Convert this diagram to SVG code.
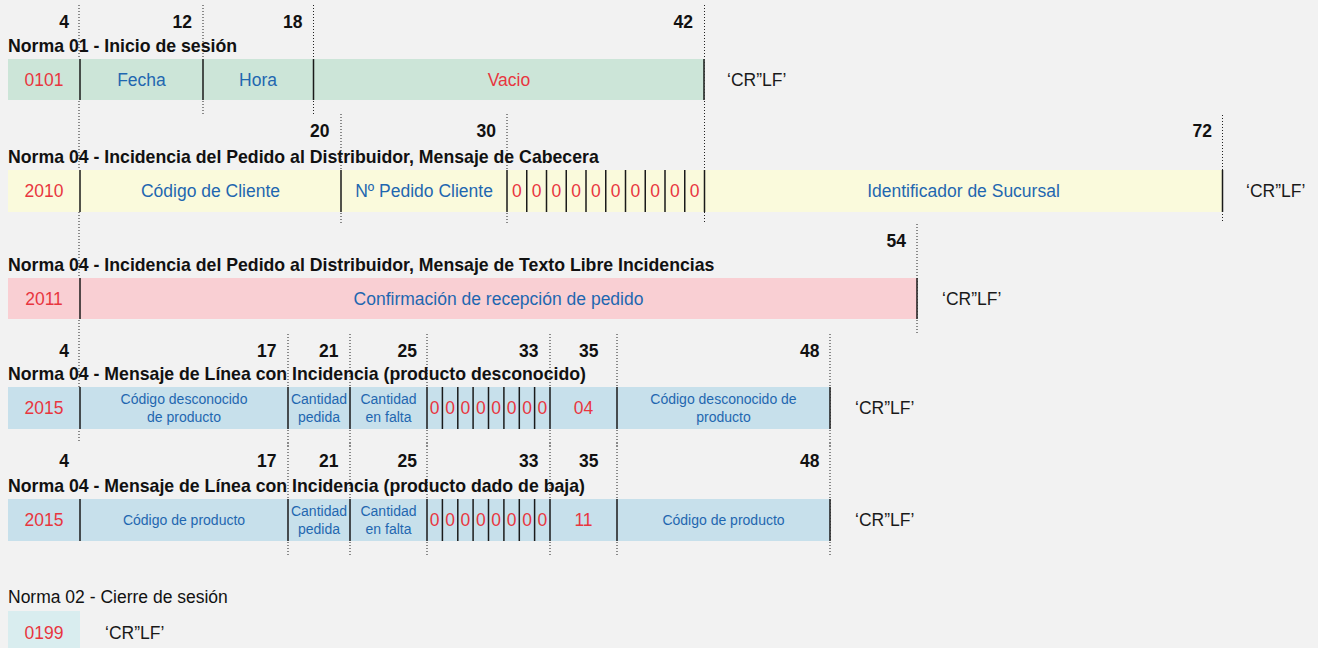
<svg xmlns="http://www.w3.org/2000/svg" width="1318" height="648" viewBox="0 0 1318 648">
<style>
text{font-family:"Liberation Sans",Arial,sans-serif}
.num{font-size:17.5px;font-weight:bold;fill:#111;text-anchor:end}
.title{font-size:17.7px;font-weight:bold;fill:#111}
.plain{font-size:17.5px;fill:#111}
.code{font-size:17.5px;fill:#e8363f;text-anchor:middle}
.lbl{font-size:17.5px;fill:#1f67b0;text-anchor:middle}
.sm{font-size:14px;fill:#1f67b0;text-anchor:middle}
.crlf{font-size:17.5px;fill:#1a1a1a}
.dot{stroke:#222;stroke-width:1;stroke-dasharray:1 2;fill:none}
.div{stroke:#1a1a1a;stroke-width:1.5;fill:none}
</style>
<rect x="0" y="0" width="1318" height="648" fill="#f2f2f2"/>

<g id="guides">
<line class="dot" x1="79" y1="5" x2="79" y2="442"/>
<line class="dot" x1="203" y1="5" x2="203" y2="115"/>
<line class="dot" x1="313.5" y1="5" x2="313.5" y2="115"/>
<line class="dot" x1="704.5" y1="5" x2="704.5" y2="222"/>
<line class="dot" x1="341" y1="114" x2="341" y2="223"/>
<line class="dot" x1="507" y1="114" x2="507" y2="223"/>
<line class="dot" x1="1222.5" y1="115" x2="1222.5" y2="222"/>
<line class="dot" x1="917" y1="224" x2="917" y2="333"/>
<line class="dot" x1="288" y1="334" x2="288" y2="448"/>
<line class="dot" x1="350" y1="334" x2="350" y2="448"/>
<line class="dot" x1="427" y1="334" x2="427" y2="448"/>
<line class="dot" x1="550" y1="334" x2="550" y2="448"/>
<line class="dot" x1="617" y1="334" x2="617" y2="448"/>
<line class="dot" x1="830" y1="334" x2="830" y2="448"/>
<line class="dot" x1="288" y1="443" x2="288" y2="557"/>
<line class="dot" x1="350" y1="443" x2="350" y2="557"/>
<line class="dot" x1="427" y1="443" x2="427" y2="557"/>
<line class="dot" x1="550" y1="443" x2="550" y2="557"/>
<line class="dot" x1="617" y1="443" x2="617" y2="557"/>
<line class="dot" x1="830" y1="443" x2="830" y2="557"/>
</g>

<g id="norma01">
<text class="num" x="69" y="28">4</text>
<text class="num" x="192" y="28">12</text>
<text class="num" x="302.5" y="28">18</text>
<text class="num" x="693" y="28">42</text>
<text class="title" x="8" y="52.3">Norma 01 - Inicio de sesión</text>
<rect x="8" y="59" width="696.5" height="41" fill="#cce5d8"/>
<line class="div" x1="80" y1="59" x2="80" y2="100"/>
<line class="div" x1="203" y1="59" x2="203" y2="100"/>
<line class="div" x1="313.5" y1="59" x2="313.5" y2="100"/>
<line class="div" x1="704" y1="59" x2="704" y2="100"/>
<text class="code" x="44" y="86">0101</text>
<text class="lbl" x="141.5" y="86">Fecha</text>
<text class="lbl" x="258" y="86">Hora</text>
<text class="code" x="509" y="86">Vacio</text>
<text class="crlf" x="727" y="86">‘CR”LF’</text>
</g>

<g id="norma04-cabecera">
<text class="num" x="329.5" y="136.7">20</text>
<text class="num" x="496" y="136.7">30</text>
<text class="num" x="1212" y="136.7">72</text>
<text class="title" x="8" y="163.3">Norma 04 - Incidencia del Pedido al Distribuidor, Mensaje de Cabecera</text>
<rect x="8" y="170" width="1214.5" height="42" fill="#fafadc"/>
<line class="div" x1="80" y1="170" x2="80" y2="212"/>
<line class="div" x1="341" y1="170" x2="341" y2="212"/>
<line class="div" x1="507" y1="170" x2="507" y2="212"/>
<line class="div" x1="526.75" y1="170" x2="526.75" y2="212"/>
<line class="div" x1="546.5" y1="170" x2="546.5" y2="212"/>
<line class="div" x1="566.25" y1="170" x2="566.25" y2="212"/>
<line class="div" x1="586" y1="170" x2="586" y2="212"/>
<line class="div" x1="605.75" y1="170" x2="605.75" y2="212"/>
<line class="div" x1="625.5" y1="170" x2="625.5" y2="212"/>
<line class="div" x1="645.25" y1="170" x2="645.25" y2="212"/>
<line class="div" x1="665" y1="170" x2="665" y2="212"/>
<line class="div" x1="684.75" y1="170" x2="684.75" y2="212"/>
<line class="div" x1="704.5" y1="170" x2="704.5" y2="212"/>
<line class="div" x1="1222.5" y1="170" x2="1222.5" y2="212"/>
<text class="code" x="44" y="197.3">2010</text>
<text class="lbl" x="210.5" y="197.3">Código de Cliente</text>
<text class="lbl" x="424" y="197.3">Nº Pedido Cliente</text>
<text class="code" x="516.9" y="197.3">0</text>
<text class="code" x="536.6" y="197.3">0</text>
<text class="code" x="556.4" y="197.3">0</text>
<text class="code" x="576.1" y="197.3">0</text>
<text class="code" x="595.9" y="197.3">0</text>
<text class="code" x="615.6" y="197.3">0</text>
<text class="code" x="635.4" y="197.3">0</text>
<text class="code" x="655.1" y="197.3">0</text>
<text class="code" x="674.9" y="197.3">0</text>
<text class="code" x="694.6" y="197.3">0</text>
<text class="lbl" x="963.5" y="197.3">Identificador de Sucursal</text>
<text class="crlf" x="1246" y="197.3">‘CR”LF’</text>
</g>

<g id="norma04-texto">
<text class="num" x="906" y="246.7">54</text>
<text class="title" x="8" y="270.7">Norma 04 - Incidencia del Pedido al Distribuidor, Mensaje de Texto Libre Incidencias</text>
<rect x="8" y="278" width="909" height="41" fill="#f9cfd3"/>
<line class="div" x1="80" y1="278" x2="80" y2="319"/>
<line class="div" x1="917" y1="278" x2="917" y2="319"/>
<text class="code" x="44" y="305">2011</text>
<text class="lbl" x="498.5" y="305">Confirmación de recepción de pedido</text>
<text class="crlf" x="942" y="305">‘CR”LF’</text>
</g>

<g id="norma04-desconocido">
<text class="num" x="69" y="356.7">4</text>
<text class="num" x="276.5" y="356.7">17</text>
<text class="num" x="338.5" y="356.7">21</text>
<text class="num" x="417" y="356.7">25</text>
<text class="num" x="538.5" y="356.7">33</text>
<text class="num" x="598.5" y="356.7">35</text>
<text class="num" x="819.5" y="356.7">48</text>
<text class="title" x="8" y="380">Norma 04 - Mensaje de Línea con Incidencia (producto desconocido)</text>
<rect x="8" y="387" width="822" height="42" fill="#c7e0eb"/>
<line class="div" x1="80" y1="387" x2="80" y2="429"/>
<line class="div" x1="288" y1="387" x2="288" y2="429"/>
<line class="div" x1="350" y1="387" x2="350" y2="429"/>
<line class="div" x1="427" y1="387" x2="427" y2="429"/>
<line class="div" x1="442.4" y1="387" x2="442.4" y2="429"/>
<line class="div" x1="457.8" y1="387" x2="457.8" y2="429"/>
<line class="div" x1="473.1" y1="387" x2="473.1" y2="429"/>
<line class="div" x1="488.5" y1="387" x2="488.5" y2="429"/>
<line class="div" x1="503.9" y1="387" x2="503.9" y2="429"/>
<line class="div" x1="519.3" y1="387" x2="519.3" y2="429"/>
<line class="div" x1="534.6" y1="387" x2="534.6" y2="429"/>
<line class="div" x1="550" y1="387" x2="550" y2="429"/>
<line class="div" x1="617" y1="387" x2="617" y2="429"/>
<line class="div" x1="830" y1="387" x2="830" y2="429"/>
<text class="code" x="44" y="414">2015</text>
<text class="sm" x="184" y="404">Código desconocido</text>
<text class="sm" x="184" y="421.7">de producto</text>
<text class="sm" x="319" y="404">Cantidad</text>
<text class="sm" x="319" y="421.7">pedida</text>
<text class="sm" x="388.5" y="404">Cantidad</text>
<text class="sm" x="388.5" y="421.7">en falta</text>
<text class="code" x="434.7" y="414">0</text>
<text class="code" x="450.1" y="414">0</text>
<text class="code" x="465.4" y="414">0</text>
<text class="code" x="480.8" y="414">0</text>
<text class="code" x="496.2" y="414">0</text>
<text class="code" x="511.6" y="414">0</text>
<text class="code" x="527" y="414">0</text>
<text class="code" x="542.3" y="414">0</text>
<text class="code" x="583.5" y="414">04</text>
<text class="sm" x="723.5" y="404">Código desconocido de</text>
<text class="sm" x="723.5" y="421.7">producto</text>
<text class="crlf" x="855" y="414">‘CR”LF’</text>
</g>

<g id="norma04-baja">
<text class="num" x="69" y="466.7">4</text>
<text class="num" x="276.5" y="466.7">17</text>
<text class="num" x="338.5" y="466.7">21</text>
<text class="num" x="417" y="466.7">25</text>
<text class="num" x="538.5" y="466.7">33</text>
<text class="num" x="598.5" y="466.7">35</text>
<text class="num" x="819.5" y="466.7">48</text>
<text class="title" x="8" y="492.3">Norma 04 - Mensaje de Línea con Incidencia (producto dado de baja)</text>
<rect x="8" y="499" width="822" height="42" fill="#c7e0eb"/>
<line class="div" x1="80" y1="499" x2="80" y2="541"/>
<line class="div" x1="288" y1="499" x2="288" y2="541"/>
<line class="div" x1="350" y1="499" x2="350" y2="541"/>
<line class="div" x1="427" y1="499" x2="427" y2="541"/>
<line class="div" x1="442.4" y1="499" x2="442.4" y2="541"/>
<line class="div" x1="457.8" y1="499" x2="457.8" y2="541"/>
<line class="div" x1="473.1" y1="499" x2="473.1" y2="541"/>
<line class="div" x1="488.5" y1="499" x2="488.5" y2="541"/>
<line class="div" x1="503.9" y1="499" x2="503.9" y2="541"/>
<line class="div" x1="519.3" y1="499" x2="519.3" y2="541"/>
<line class="div" x1="534.6" y1="499" x2="534.6" y2="541"/>
<line class="div" x1="550" y1="499" x2="550" y2="541"/>
<line class="div" x1="617" y1="499" x2="617" y2="541"/>
<line class="div" x1="830" y1="499" x2="830" y2="541"/>
<text class="code" x="44" y="526">2015</text>
<text class="sm" x="184" y="525">Código de producto</text>
<text class="sm" x="319" y="515.5">Cantidad</text>
<text class="sm" x="319" y="533.5">pedida</text>
<text class="sm" x="388.5" y="515.5">Cantidad</text>
<text class="sm" x="388.5" y="533.5">en falta</text>
<text class="code" x="434.7" y="526">0</text>
<text class="code" x="450.1" y="526">0</text>
<text class="code" x="465.4" y="526">0</text>
<text class="code" x="480.8" y="526">0</text>
<text class="code" x="496.2" y="526">0</text>
<text class="code" x="511.6" y="526">0</text>
<text class="code" x="527" y="526">0</text>
<text class="code" x="542.3" y="526">0</text>
<text class="code" x="583.5" y="526">11</text>
<text class="sm" x="723.5" y="525">Código de producto</text>
<text class="crlf" x="855" y="526">‘CR”LF’</text>
</g>

<g id="norma02">
<text class="plain" x="8" y="603.3">Norma 02 - Cierre de sesión</text>
<rect x="8" y="611" width="72" height="37" fill="#d9edef"/>
<text class="code" x="44" y="639">0199</text>
<text class="crlf" x="105" y="639">‘CR”LF’</text>
</g>
</svg>
